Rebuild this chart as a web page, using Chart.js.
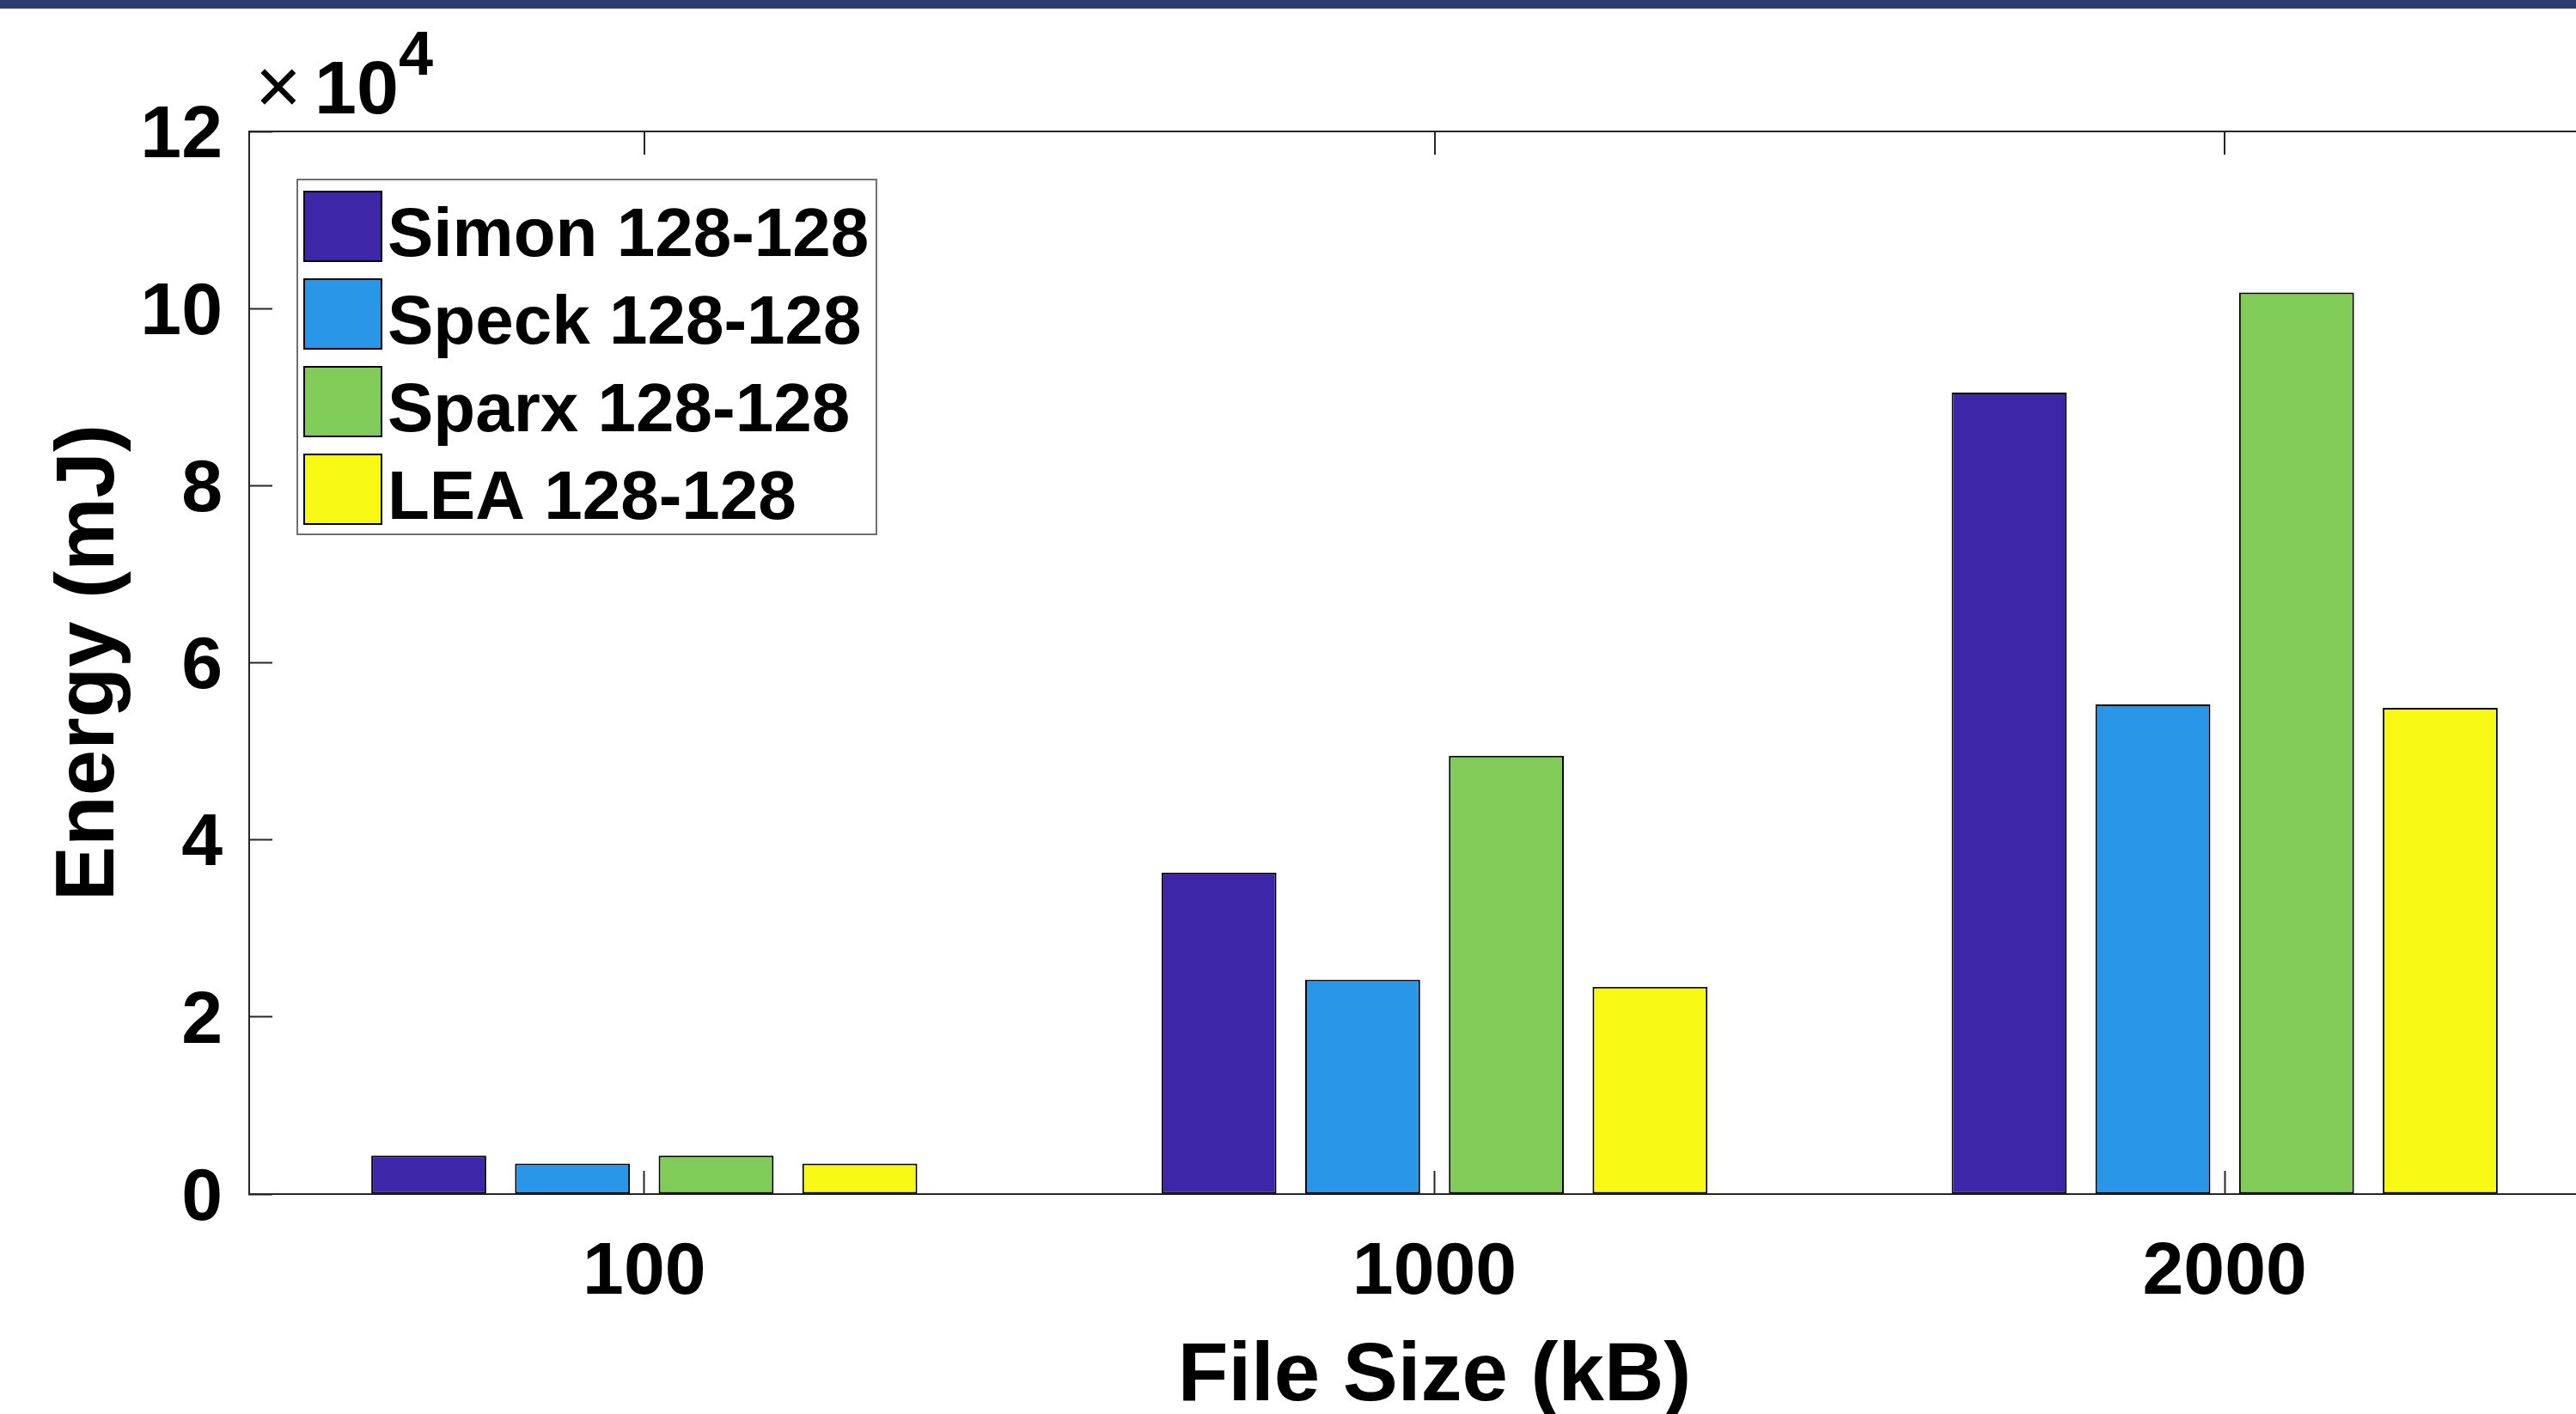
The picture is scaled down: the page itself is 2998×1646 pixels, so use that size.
<!DOCTYPE html>
<html>
<head>
<meta charset="utf-8">
<title>Energy vs File Size</title>
<script src="https://cdn.jsdelivr.net/npm/chart.js@4.4.1/dist/chart.umd.min.js"></script>
<style>
  html, body { margin: 0; padding: 0; background: #fff; overflow: hidden; }
  #banner { position: absolute; left: 0; top: 0; width: 100%; height: 10px; background: #2c3e70; z-index: 2; }
  #wrap { position: absolute; left: 0; top: 0; }
</style>
</head>
<body>
<div id="banner"></div>
<div id="wrap"><canvas id="chart" width="3100" height="1646"></canvas></div>
<script>
// Energy per cipher, grouped by file size

const fileSizes = ['100', '1000', '2000'];
const simonEnergy = [4350, 36300, 90500];
const speckEnergy = [3450, 24200, 55300];
const sparxEnergy = [4350, 49500, 101800];
const leaEnergy = [3450, 23400, 54900];
const cipherNames = ['Simon 128-128', 'Speck 128-128', 'Sparx 128-128', 'LEA 128-128'];
const yTickValues = [0, 20000, 40000, 60000, 80000, 100000, 120000];

const colors = {
  simon: '#3e26a8',
  speck: '#2a96e8',
  sparx: '#81cb58',
  lea: '#f7f814',
  axis: '#262626',
  legendBox: '#707070'
};

const fontFamily = "'Liberation Sans', Arial, Helvetica, sans-serif";
const tickLen = 27;

// box frame (top / right sides), exponent label and the boxed legend
const matlabFrame = {
  id: 'matlabFrame',
  afterDraw(chart) {
    const { ctx, chartArea: area, scales } = chart;
    ctx.save();
    ctx.strokeStyle = colors.axis;
    ctx.lineWidth = 2;
    ctx.beginPath();
    ctx.moveTo(area.left, area.top);
    ctx.lineTo(area.right, area.top);
    ctx.lineTo(area.right, area.bottom);
    scales.x.ticks.forEach((t, i) => {
      const x = Math.round(scales.x.getPixelForTick(i));
      ctx.moveTo(x, area.top);
      ctx.lineTo(x, area.top + tickLen);
    });
    ctx.stroke();

    // x10^4 multiplier
    ctx.fillStyle = '#000';
    ctx.textBaseline = 'alphabetic';
    ctx.textAlign = 'left';
    ctx.font = `normal 92px ${fontFamily}`;
    ctx.fillText('\u00d7', area.left + 7, area.top - 21);
    ctx.font = `bold 88px ${fontFamily}`;
    ctx.fillText('10', area.left + 76, area.top - 21);
    ctx.font = `bold 72px ${fontFamily}`;
    ctx.fillText('4', area.left + 174, area.top - 66);

    // legend
    const lx = area.left + 56;
    const ly = area.top + 56;
    ctx.strokeStyle = colors.legendBox;
    ctx.lineWidth = 2;
    ctx.fillStyle = '#fff';
    ctx.fillRect(lx, ly, 674, 413);
    ctx.strokeRect(lx, ly, 674, 413);
    ctx.font = `bold 80px ${fontFamily}`;
    chart.data.datasets.forEach((ds, i) => {
      const sy = ly + 14 + i * 102;
      ctx.fillStyle = ds.backgroundColor;
      ctx.fillRect(lx + 8, sy, 90, 81);
      ctx.strokeStyle = '#000';
      ctx.strokeRect(lx + 8, sy, 90, 81);
      ctx.fillStyle = '#000';
      ctx.fillText(ds.label, lx + 105, sy + 75);
    });
    ctx.restore();
  }
};

const ctx = document.getElementById('chart');

const energyChart = new Chart(ctx, {
  type: 'bar',
  data: {
    labels: fileSizes,
    datasets: [
      { label: cipherNames[0], data: simonEnergy, backgroundColor: colors.simon },
      { label: cipherNames[1], data: speckEnergy, backgroundColor: colors.speck },
      { label: cipherNames[2], data: sparxEnergy, backgroundColor: colors.sparx },
      { label: cipherNames[3], data: leaEnergy, backgroundColor: colors.lea }
    ]
  },
  options: {
    responsive: false,
    devicePixelRatio: 1,
    animation: false,
    datasets: {
      bar: {
        borderColor: '#000',
        borderWidth: 2,
        borderSkipped: false,
        categoryPercentage: 4 / 5.5,
        barPercentage: 0.8
      }
    },
    layout: {
      padding: { top: 153, left: 0, right: 51, bottom: 0 }
    },
    plugins: {
      legend: { display: false },
      tooltip: { enabled: false }
    },
    scales: {
      x: {
        grid: {
          display: true,
          offset: false,
          drawOnChartArea: false,
          drawTicks: true,
          tickLength: -tickLen,
          tickWidth: 2,
          tickColor: colors.axis
        },
        border: { display: true, color: colors.axis, width: 2 },
        ticks: {
          color: '#000',
          padding: 76,
          font: { family: fontFamily, size: 86, weight: 'bold', lineHeight: 1 }
        },
        title: {
          display: true,
          text: 'File Size (kB)',
          color: '#000',
          padding: { top: 0, bottom: -6 },
          font: { family: fontFamily, size: 96, weight: 'bold', lineHeight: 1 }
        },
        afterFit: (scale) => { scale.height = 256; }
      },
      y: {
        min: 0,
        max: 120000,
        afterBuildTicks: (scale) => {
          scale.ticks = yTickValues.map(v => ({ value: v }));
        },
        grid: {
          display: true,
          drawOnChartArea: false,
          drawTicks: true,
          tickLength: -tickLen,
          tickWidth: 2,
          tickColor: colors.axis
        },
        border: { display: true, color: colors.axis, width: 2 },
        ticks: {
          color: '#000',
          padding: 31 + tickLen,
          labelOffset: 6,
          callback: (value) => `${value / 10000}`,
          font: { family: fontFamily, size: 86, weight: 'bold', lineHeight: 1 }
        },
        title: {
          display: true,
          text: 'Energy (mJ)',
          color: '#000',
          padding: { top: 58, bottom: 0 },
          font: { family: fontFamily, size: 96, weight: 'bold', lineHeight: 1 }
        },
        afterFit: (scale) => { scale.width = 290; }
      }
    }
  },
  plugins: [matlabFrame]
});
</script>
</body>
</html>
